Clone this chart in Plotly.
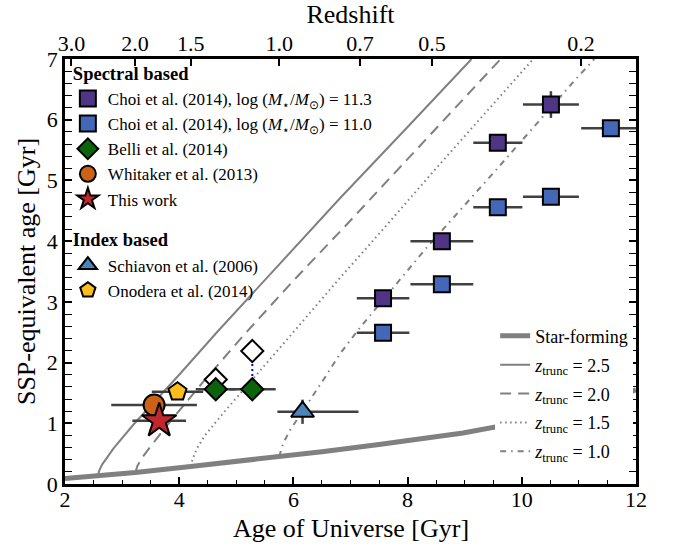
import numpy as np
import plotly.graph_objects as go

FONT = "Liberation Serif, Times New Roman, Times, serif"

# ---------------- data ----------------
# Choi et al. (2014)
choi113_age = [7.57, 8.60, 9.58, 10.51]
choi113_ssp = [3.06, 4.00, 5.62, 6.25]
choi113_xerr = [0.46, 0.55, 0.43, 0.49]
choi113_yerr = [0.05, 0.10, 0.08, 0.22]

choi110_age = [7.57, 8.60, 9.58, 10.51, 11.56]
choi110_ssp = [2.49, 3.29, 4.56, 4.73, 5.86]
choi110_xerr = [0.46, 0.55, 0.43, 0.49, 0.52]
choi110_yerr = [0.05, 0.05, 0.05, 0.05, 0.05]

# Belli et al. (2014)
belli_age = [4.64, 5.28]
belli_ssp = [1.56, 1.56]
belli_xerr = [0.35, 0.41]
belli_yerr = [0.05, 0.10]
belli_open_ssp = [1.72, 2.19]

# Whitaker et al. (2013)
whit_age = [3.56]
whit_ssp = [1.30]
whit_xerr = [0.75]

# This work
tw_age = [3.65]
tw_ssp = [1.04]
tw_xerr = [0.47]

# Schiavon et al. (2006)
sch_age = [6.16]
sch_ssp = [1.19]
sch_xerr_plus = [0.98]
sch_xerr_minus = [0.44]
sch_yerr = [0.2]

# Onodera et al. (2014)
ono_age = [3.97]
ono_ssp = [1.52]
ono_xerr = [0.45]
ono_yerr = [0.1]

# model tracks
sf_age = [2.0, 2.57, 3.23, 4.2, 5.0, 5.75, 6.5, 7.5, 8.97, 10.0, 11.0, 11.67, 12.0]
sf_ssp = [0.09, 0.13, 0.19, 0.29, 0.37, 0.45, 0.53, 0.65, 0.84, 1.02, 1.24, 1.44, 1.55]

z25_age = [2.57, 2.60, 2.65, 2.72, 2.85, 3.2, 4.0, 4.68, 5.5, 6.82, 8.0, 8.74, 9.12]
z25_ssp = [0.13, 0.22, 0.32, 0.42, 0.585, 0.98, 1.80, 2.52, 3.36, 4.71, 5.88, 6.62, 7.0]

z20_age = [3.23, 3.27, 3.35, 3.49, 3.8, 4.4, 5.12, 6.0, 6.93, 8.0, 9.15, 9.63]
z20_ssp = [0.19, 0.30, 0.43, 0.61, 0.98, 1.66, 2.44, 3.35, 4.27, 5.35, 6.51, 7.0]

z15_age = [4.2, 4.24, 4.31, 4.45, 4.8, 5.3, 5.77, 6.82, 7.5, 8.5, 9.85, 10.2]
z15_ssp = [0.29, 0.42, 0.585, 0.80, 1.20, 1.75, 2.25, 3.40, 4.12, 5.2, 6.62, 7.0]

z10_age = [5.75, 5.78, 5.82, 5.95, 6.2, 6.5, 6.82, 7.17, 8.33, 9.5, 10.9, 11.27]
z10_ssp = [0.45, 0.55, 0.67, 0.90, 1.25, 1.68, 2.15, 2.58, 3.89, 5.12, 6.62, 7.0]

# top axis: redshift tick labels
z_ticks = [3.0, 2.0, 1.5, 1.0, 0.7, 0.5, 0.2]
z_ticklabels = ["3.0", "2.0", "1.5", "1.0", "0.7", "0.5", "0.2"]


def age_at_z(z, H0=70.0, Om=0.3):
    OL = 1.0 - Om
    th = 977.8 / H0
    return 2.0 / 3.0 * th / np.sqrt(OL) * np.arcsinh(np.sqrt(OL / Om) * (1 + np.asarray(z)) ** -1.5)


z_tickvals = list(age_at_z(z_ticks))

# ---------------- figure ----------------
GRAY = "#808080"
EB = "#404040"
fig = go.Figure()

lk = dict(legend="legend2", mode="lines", hoverinfo="skip")
fig.add_trace(go.Scatter(x=sf_age, y=sf_ssp, name="Star-forming", legendgroup="m0",
                         line=dict(color=GRAY, width=5), **lk))
fig.add_trace(go.Scatter(x=z25_age, y=z25_ssp, name="<i>z</i><sub>trunc</sub> = 2.5", legendgroup="m1",
                         line=dict(color=GRAY, width=2), **lk))
fig.add_trace(go.Scatter(x=z20_age, y=z20_ssp, name="<i>z</i><sub>trunc</sub> = 2.0", legendgroup="m2",
                         line=dict(color=GRAY, width=2, dash="11px,7px"), **lk))
fig.add_trace(go.Scatter(x=z15_age, y=z15_ssp, name="<i>z</i><sub>trunc</sub> = 1.5", legendgroup="m3",
                         line=dict(color=GRAY, width=2, dash="1.5px,3.5px"), **lk))
fig.add_trace(go.Scatter(x=z10_age, y=z10_ssp, name="<i>z</i><sub>trunc</sub> = 1.0", legendgroup="m4",
                         line=dict(color=GRAY, width=2, dash="6px,5px,1.5px,5px"), **lk))


def ex(arr, minus=None):
    d = dict(type="data", array=arr, color=EB, thickness=2.5, width=0)
    if minus is not None:
        d["symmetric"] = False
        d["arrayminus"] = minus
    return d


def ey(arr):
    return dict(type="data", array=arr, color=EB, thickness=2.5, width=0)


edge = dict(color="black", width=2)
gt_font = dict(size=18.5, family=FONT, color="black")

fig.add_trace(go.Scatter(
    x=choi113_age, y=choi113_ssp, mode="markers", legendgroup="spec",
    legendgrouptitle=dict(text="<b>Spectral based</b>", font=gt_font),
    name="Choi et al. (2014), log (<i>M</i><sub>⋆</sub>/<i>M</i><sub>⊙</sub>) = 11.3",
    marker=dict(symbol="square", size=16, color="#4e3585", line=edge),
    error_x=ex(choi113_xerr), error_y=ey(choi113_yerr)))
fig.add_trace(go.Scatter(
    x=choi110_age, y=choi110_ssp, mode="markers", legendgroup="spec",
    name="Choi et al. (2014), log (<i>M</i><sub>⋆</sub>/<i>M</i><sub>⊙</sub>) = 11.0",
    marker=dict(symbol="square", size=16, color="#4468b8", line=edge),
    error_x=ex(choi110_xerr), error_y=ey(choi110_yerr)))

# open diamonds + connector (not in legend)
fig.add_trace(go.Scatter(
    x=[belli_age[1], belli_age[1]], y=[belli_ssp[1] + 0.22, belli_open_ssp[1] - 0.18],
    mode="lines", line=dict(color="blue", width=2, dash="2px,3px"), showlegend=False))
fig.add_trace(go.Scatter(
    x=belli_age, y=belli_open_ssp, mode="markers", showlegend=False,
    marker=dict(symbol="diamond", size=17, color="white", line=edge)))

fig.add_trace(go.Scatter(
    x=belli_age, y=belli_ssp, mode="markers", legendgroup="spec", name="Belli et al. (2014)",
    marker=dict(symbol="diamond", size=17, color="#0b640b", line=edge),
    error_x=ex(belli_xerr), error_y=ey(belli_yerr)))
fig.add_trace(go.Scatter(
    x=whit_age, y=whit_ssp, mode="markers", legendgroup="spec", name="Whitaker et al. (2013)",
    marker=dict(symbol="circle", size=21, color="#cc6118", line=edge),
    error_x=ex(whit_xerr)))
fig.add_trace(go.Scatter(
    x=tw_age, y=tw_ssp, mode="markers", legendgroup="spec", name="This work",
    marker=dict(symbol="star", size=26, color="#c1272d", line=edge),
    error_x=ex(tw_xerr)))
fig.add_trace(go.Scatter(
    x=sch_age, y=sch_ssp, mode="markers", legendgroup="idx",
    legendgrouptitle=dict(text="<b>Index based</b>", font=gt_font),
    name="Schiavon et al. (2006)",
    marker=dict(symbol="triangle-up", size=20, color="#4a84b8", line=edge),
    error_x=ex(sch_xerr_plus, sch_xerr_minus), error_y=ey(sch_yerr)))
fig.add_trace(go.Scatter(
    x=ono_age, y=ono_ssp, mode="markers", legendgroup="idx", name="Onodera et al. (2014)",
    marker=dict(symbol="pentagon", size=19, color="#fdbe1d", line=edge),
    error_x=ex(ono_xerr), error_y=ey(ono_yerr)))

# invisible trace to carry the top axis
fig.add_trace(go.Scatter(x=[2, 12], y=[0, 0], xaxis="x2", mode="markers",
                         marker=dict(opacity=0), showlegend=False, hoverinfo="skip"))

TICKF = dict(size=22, family=FONT, color="black")
TITLEF = dict(size=26, family=FONT, color="black")
axis_common = dict(showgrid=False, zeroline=False, showline=True, linecolor="black",
                   linewidth=2.5, ticks="inside", tickcolor="black", tickwidth=1.5,
                   ticklen=7, tickfont=TICKF)

fig.update_layout(
    width=673, height=549,
    margin=dict(l=65, r=37, t=56, b=65),
    paper_bgcolor="white", plot_bgcolor="white",
    font=dict(family=FONT, color="black"),
    xaxis=dict(range=[2, 12], dtick=2, tick0=2, mirror=True, ticklabelstandoff=-6,
               minor=dict(dtick=0.5, ticks="inside", ticklen=4, tickcolor="black", tickwidth=1),
               **axis_common),
    xaxis2=dict(range=[2, 12], overlaying="x", side="top", tickmode="array",
                tickvals=z_tickvals, ticktext=z_ticklabels, showline=False,
                showgrid=False, zeroline=False, ticks="inside", tickcolor="black",
                tickwidth=1.5, ticklen=7, tickfont=TICKF, ticklabelstandoff=3,
                title=dict(text="Redshift", font=TITLEF, standoff=0)),
    yaxis=dict(range=[0, 7], dtick=1, tick0=0, mirror="allticks",
               minor=dict(dtick=0.2, ticks="inside", ticklen=4, tickcolor="black", tickwidth=1),
               title=dict(text="SSP-equivalent age [Gyr]", font=TITLEF, standoff=4),
               **axis_common),
    annotations=[dict(text="Age of Universe [Gyr]", xref="paper", yref="paper",
                      x=0.5, y=-0.104, xanchor="center", yanchor="middle",
                      showarrow=False, font=TITLEF)],
    legend=dict(x=0.005, y=1.012, xanchor="left", yanchor="top", bgcolor="rgba(0,0,0,0)",
                font=dict(size=17, family=FONT, color="black"), traceorder="grouped",
                tracegroupgap=14, itemsizing="trace"),
    legend2=dict(x=0.995, y=0.034, xanchor="right", yanchor="bottom", bgcolor="white",
                 font=dict(size=18, family=FONT, color="black"), traceorder="grouped",
                 tracegroupgap=2.5),
    showlegend=True,
)

fig.write_html("out.html", config={"displayModeBar": False},
               post_script="document.body.style.margin='0px';")
